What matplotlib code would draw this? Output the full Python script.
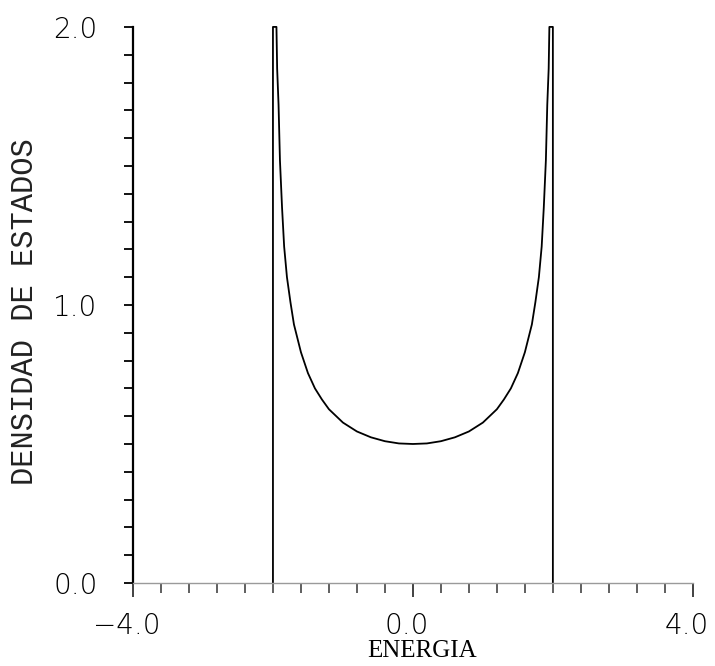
import matplotlib.pyplot as plt
import matplotlib.transforms as mtransforms
import numpy as np

# Datos (densidad de estados vs energia)
energia = [-2.0, -2.0, -1.95, -1.94, -1.92, -1.90, -1.87, -1.84, -1.80, -1.75,
           -1.70, -1.60, -1.50, -1.40, -1.30, -1.20, -1.00, -0.80, -0.60, -0.40,
           -0.20, 0.00,
           0.20, 0.40, 0.60, 0.80, 1.00, 1.20, 1.30, 1.40, 1.50, 1.60,
           1.70, 1.75, 1.80, 1.84, 1.87, 1.90, 1.92, 1.94, 1.95, 2.0, 2.0]
densidad = [0.0, 2.0, 2.0, 1.85, 1.72, 1.52, 1.35, 1.21, 1.10, 1.01,
            0.93, 0.83, 0.755, 0.70, 0.66, 0.625, 0.577, 0.545, 0.524, 0.51,
            0.502, 0.50,
            0.502, 0.51, 0.524, 0.545, 0.577, 0.625, 0.66, 0.70, 0.755, 0.83,
            0.93, 1.01, 1.10, 1.21, 1.35, 1.52, 1.72, 1.85, 2.0, 2.0, 0.0]

xticks = [-4.0, 0.0, 4.0]
xtick_labels = ['\u22124.0', '0.0', '4.0']
yticks = [0.0, 1.0, 2.0]
ytick_labels = ['0.0', '1.0', '2.0']

fig = plt.figure(figsize=(7.15, 6.66), dpi=100)
ax = fig.add_axes([0.186, 0.1246, 0.783, 0.835])

ax.plot(energia, densidad, color='black', lw=1.3, clip_on=False)

ax.set_xlim(-4, 4)
ax.set_ylim(0, 2)

for s in ['top', 'right']:
    ax.spines[s].set_visible(False)
ax.spines['left'].set_linewidth(1.6)
ax.spines['bottom'].set_color('#9a9a9a')
ax.spines['bottom'].set_linewidth(1.0)

ax.set_xticks(xticks)
ax.set_xticklabels(xtick_labels)
ax.set_xticks(np.arange(-4.0, 4.01, 0.4), minor=True)
ax.set_yticks(yticks)
ax.set_yticklabels(ytick_labels)
ax.set_yticks(np.arange(0.0, 2.01, 0.1), minor=True)

ax.tick_params(axis='y', which='both', direction='out', length=6.5, width=1.3,
               pad=19, labelsize=20)
ax.tick_params(axis='x', which='major', direction='out', length=10, width=1.3,
               color='#333333', pad=11, labelsize=20)
ax.tick_params(axis='x', which='minor', direction='out', length=7, width=1.2,
               color='#444444')

for lab in ax.get_xticklabels() + ax.get_yticklabels():
    lab.set_fontweight('light')
offset = mtransforms.ScaledTranslation(-6 / 100, 0, fig.dpi_scale_trans)
for lab in ax.get_xticklabels():
    lab.set_transform(lab.get_transform() + offset)

fig.text(25 / 715, 1 - 312 / 666, 'DENSIDAD DE ESTADOS', rotation=90,
         ha='center', va='center', fontsize=22, family='Liberation Mono',
         color='#222222')
fig.text(422 / 715, 1 - 651 / 666, 'ENERGIA', ha='center', va='center',
         fontsize=18, family='Liberation Serif')

fig.savefig('out.png', dpi=100)
